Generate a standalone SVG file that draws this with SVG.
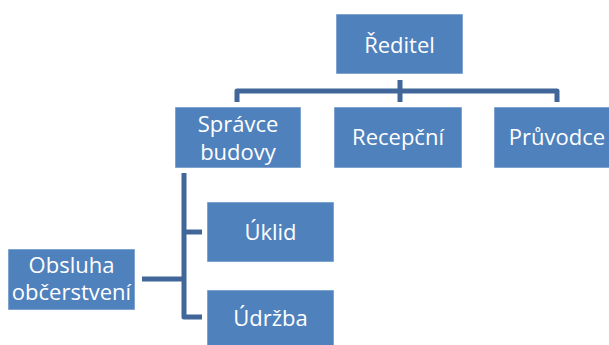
<svg xmlns="http://www.w3.org/2000/svg" width="609" height="345" viewBox="0 0 609 345">
  <style>
    .box { fill: #4F81BD; stroke: #ffffff; stroke-opacity: 0.55; stroke-width: 1; }
    .label { fill: #ffffff; font-family: "Open Sans", "Liberation Sans", Arial, sans-serif; font-size: 22px; text-anchor: middle; }
    .link { fill: none; stroke: #41679A; stroke-width: 5; stroke-linejoin: round; stroke-linecap: butt; }
  </style>
  <rect width="609" height="345" fill="#ffffff"/>

  <g id="connectors">
    <path class="link" d="M400,80 V102"/>
    <path class="link" d="M237,102 V91 H557 V102"/>
    <path class="link" d="M184,173 V317 H202"/>
    <path class="link" d="M184,232 H202"/>
    <path class="link" d="M142,279 H184"/>
  </g>

  <g id="reditel">
    <rect class="box" x="336" y="14" width="127" height="60"/>
    <text class="label" x="399.5" y="53">Ředitel</text>
  </g>
  <g id="spravce-budovy">
    <rect class="box" x="175" y="107" width="126" height="61"/>
    <text class="label" x="238" y="132">Správce<tspan x="238" dy="28">budovy</tspan></text>
  </g>
  <g id="recepcni">
    <rect class="box" x="334" y="107" width="128" height="61"/>
    <text class="label" x="398" y="145">Recepční</text>
  </g>
  <g id="pruvodce">
    <rect class="box" x="494" y="107" width="126" height="61"/>
    <text class="label" x="557" y="145">Průvodce</text>
  </g>
  <g id="uklid">
    <rect class="box" x="207" y="202" width="127" height="60"/>
    <text class="label" x="270.5" y="240">Úklid</text>
  </g>
  <g id="obsluha-obcerstveni">
    <rect class="box" x="8" y="249" width="127" height="61"/>
    <text class="label" x="71.5" y="273">Obsluha<tspan x="71.5" dy="27">občerstvení</tspan></text>
  </g>
  <g id="udrzba">
    <rect class="box" x="207" y="290" width="127" height="60"/>
    <text class="label" x="270.5" y="326">Údržba</text>
  </g>
</svg>
